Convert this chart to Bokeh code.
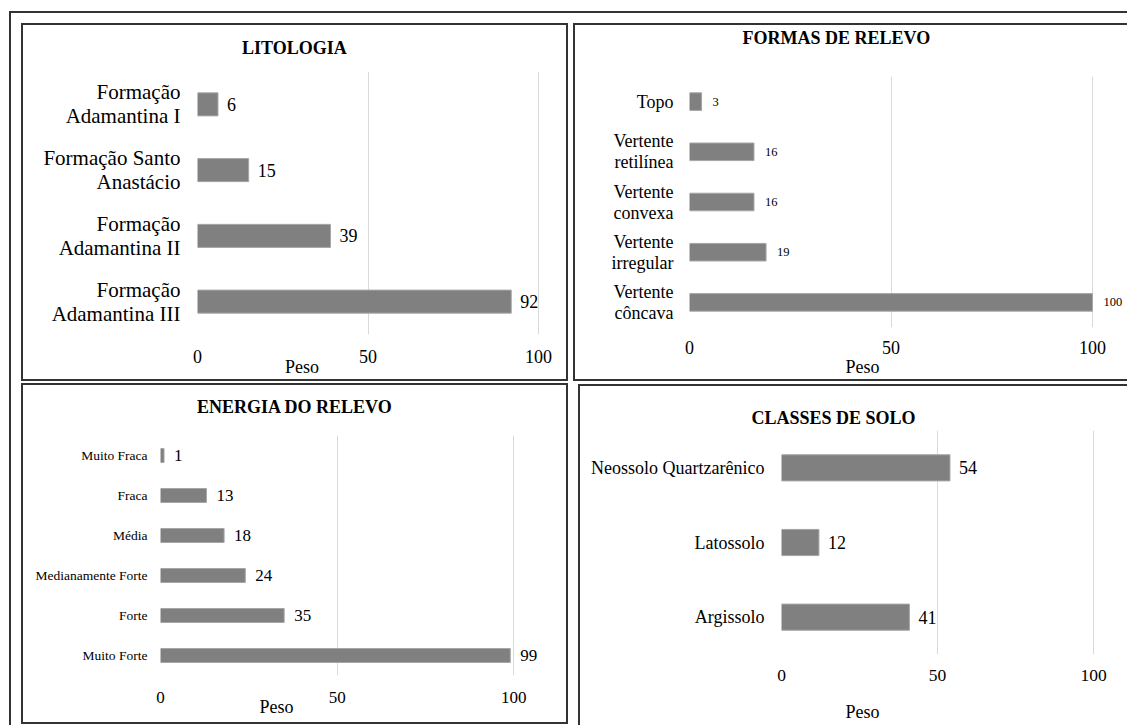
from bokeh.plotting import figure
from bokeh.models import ColumnDataSource, FactorRange, Range1d, FixedTicker, Title
from bokeh.layouts import row, column
from bokeh.core.properties import value
from bokeh.embed import file_html
from bokeh.resources import INLINE

# ---------------- data ----------------
lito_title = "LITOLOGIA"
lito_cats = ["Formação\nAdamantina I", "Formação Santo\nAnastácio",
             "Formação\nAdamantina II", "Formação\nAdamantina III"]
lito_vals = [6, 15, 39, 92]

formas_title = "FORMAS DE RELEVO"
formas_cats = ["Topo", "Vertente\nretilínea", "Vertente\nconvexa",
               "Vertente\nirregular", "Vertente\ncôncava"]
formas_vals = [3, 16, 16, 19, 100]

energia_title = "ENERGIA DO RELEVO"
energia_cats = ["Muito Fraca", "Fraca", "Média", "Medianamente Forte",
                "Forte", "Muito Forte"]
energia_vals = [1, 13, 18, 24, 35, 99]

solo_title = "CLASSES DE SOLO"
solo_cats = ["Neossolo Quartzarênico", "Latossolo", "Argissolo"]
solo_vals = [54, 12, 41]

x_ticks = [0, 50, 100]
x_axis_title = "Peso"

# ---------------- styles / layout ----------------
FONT = "Liberation Serif"
BAR_FILL = "#808080"
BAR_LINE = "#a6a6a6"
GRID = "#d9d9d9"
EDGE = "#333333"
BW = 2  # border width of the panel frames

# page-pixel geometry of each panel (outer box incl. border)
g_lito = dict(left=21, top=23, width=547, height=358, x0=197, ppu=3.41,
              frame_top=71, frame_bottom=334, frame_right=565,
              cat_font="21px", cat_lh=1.0, cat_align="center",
              val_font="18px", tick_font="18px",
              cat_standoff=17, val_off=9, tick_standoff=15,
              title_off=44.5, title_gap=11, peso_off=87.5, peso_standoff=-21)
g_formas = dict(left=573, top=23, width=560, height=358, x0=689, ppu=4.03,
                frame_top=76, frame_bottom=327, frame_right=1130,
                cat_font="18px", cat_lh=1.05, cat_align="center",
                val_font="12.5px", tick_font="18px",
                cat_standoff=16, val_off=11, tick_standoff=13,
                title_off=53, title_gap=26, peso_off=156, peso_standoff=-3)
g_energia = dict(left=21, top=383, width=547, height=341, x0=160, ppu=3.533,
                 frame_top=435, frame_bottom=675, frame_right=565,
                 cat_font="13.5px", cat_lh=1.2, cat_align="right",
                 val_font="17px", tick_font="17px",
                 cat_standoff=13, val_off=10, tick_standoff=16,
                 title_off=36.5, title_gap=16, peso_off=99, peso_standoff=-22)
g_solo = dict(left=578, top=384, width=556, height=380, x0=781, ppu=3.12,
              frame_top=430, frame_bottom=654, frame_right=1131,
              cat_font="18px", cat_lh=1.2, cat_align="right",
              val_font="18px", tick_font="17.5px",
              cat_standoff=17, val_off=9, tick_standoff=15,
              title_off=-30, title_gap=0, peso_off=64, peso_standoff=32)


def make_panel(title, cats, vals, g):
    fl = g["left"] + BW
    ft = g["top"] + BW
    fw = g["width"] - 2 * BW
    fh = g["height"] - 2 * BW
    xmax = (g["frame_right"] - g["x0"]) / g["ppu"]
    p = figure(width=fw, height=fh, title=None,
               x_range=Range1d(0, xmax),
               y_range=FactorRange(factors=list(reversed(cats)), range_padding=0),
               output_backend="svg", toolbar_location=None,
               min_border_left=g["x0"] - fl,
               min_border_right=fl + fw - g["frame_right"],
               min_border_top=g["frame_top"] - ft,
               min_border_bottom=ft + fh - g["frame_bottom"],
               margin=(BW, BW, BW, BW),
               styles={"background-color": "white"})
    p.outline_line_color = None
    p.background_fill_color = "white"
    p.border_fill_color = "white"

    src = ColumnDataSource(dict(cat=cats, val=vals, lbl=[str(v) for v in vals]))
    p.hbar(y="cat", right="val", left=0, height=0.35, source=src,
           fill_color=BAR_FILL, line_color=BAR_LINE, line_width=1)
    p.text(x="val", y="cat", text="lbl", source=src, x_offset=g["val_off"],
           text_align="left", text_baseline="middle",
           text_font=value(FONT), text_font_size=g["val_font"], text_color="#000000")

    ticker = FixedTicker(ticks=x_ticks)
    xa = p.xaxis[0]
    xa.ticker = ticker
    xa.axis_line_color = None
    xa.major_tick_line_color = None
    xa.minor_tick_line_color = None
    xa.major_tick_out = 0
    xa.major_label_standoff = g["tick_standoff"]
    xa.major_label_text_font = FONT
    xa.major_label_text_font_size = g["tick_font"]
    xa.major_label_text_color = "#000000"

    ya = p.yaxis[0]
    ya.axis_line_color = None
    ya.major_tick_line_color = None
    ya.minor_tick_line_color = None
    ya.major_tick_out = 0
    ya.major_label_standoff = g["cat_standoff"]
    ya.major_label_text_font = FONT
    ya.major_label_text_font_size = g["cat_font"]
    ya.major_label_text_line_height = g["cat_lh"]
    ya.major_label_text_align = g["cat_align"]
    ya.major_label_text_color = "#000000"

    p.xgrid.ticker = ticker
    p.xgrid.grid_line_color = GRID
    p.ygrid.grid_line_color = None

    # spacer between plot area and title, then the title itself
    p.add_layout(Title(text=" ", text_font_size="1px", standoff=g["title_gap"]), "above")
    p.add_layout(Title(text=title, align="left", offset=g["title_off"], standoff=0,
                       text_font=FONT, text_font_size="18px", text_font_style="bold",
                       text_color="#000000"), "above")

    p.add_layout(Title(text=x_axis_title, align="left", offset=g["peso_off"],
                       standoff=g["peso_standoff"], text_font=FONT,
                       text_font_size="18px", text_font_style="normal",
                       text_color="#000000"), "below")

    wrap = column(p, styles={"background-color": EDGE})
    return wrap


w1 = make_panel(lito_title, lito_cats, lito_vals, g_lito)
w2 = make_panel(formas_title, formas_cats, formas_vals, g_formas)
w3 = make_panel(energia_title, energia_cats, energia_vals, g_energia)
w4 = make_panel(solo_title, solo_cats, solo_vals, g_solo)
w4.margin = (1, 0, 0, 0)

r1 = row(w1, w2, spacing=5, margin=(10, 0, 0, 10))
r2 = row(w3, w4, spacing=10, margin=(2, 0, 0, 10))
inner = column(r1, r2, margin=(2, 0, 0, 2), styles={"background-color": "white"})
root = column(inner, width=1118, height=714, margin=(11, 0, 0, 9),
              styles={"background-color": EDGE, "overflow": "hidden"})

open("out.html", "w").write(file_html(root, INLINE))
